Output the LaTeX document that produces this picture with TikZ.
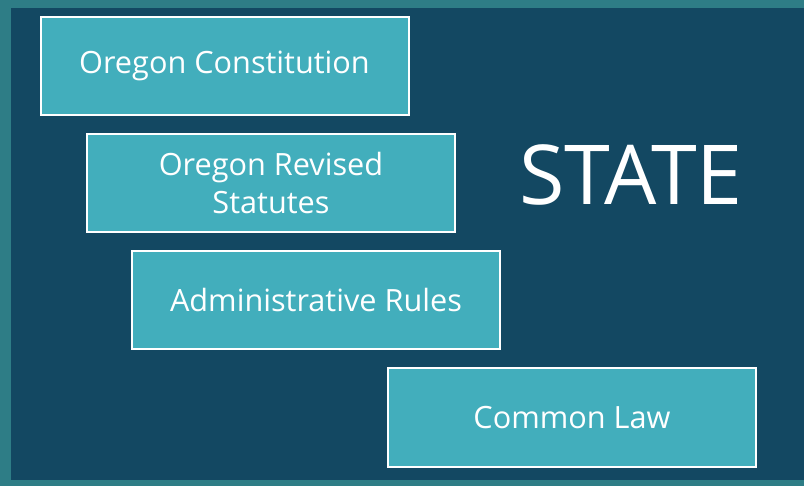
\documentclass[tikz,border=0pt]{standalone}
\usepackage{fontspec}
\setmainfont{Open Sans}
\definecolor{frameteal}{HTML}{2E7D86}
\definecolor{navy}{HTML}{134862}
\definecolor{boxteal}{HTML}{42AEBC}

\begin{document}
\begin{tikzpicture}[x=0.75pt,y=-0.75pt,
	box/.style={draw=white,line width=1.5pt,fill=boxteal,minimum width=276pt,minimum height=74pt,inner sep=0pt,text=white,font=\fontsize{23}{28.5}\selectfont,align=center}]
	\fill [frameteal] (0,0) rectangle (804,486);
	\fill [navy] (11,8) rectangle (804,480);
	\useasboundingbox (0,0) rectangle (804,486);
	
	\node[box] (const) at (224.5,66) {Oregon Constitution};
	\node[box] (ors) at (271,183) {Oregon Revised\\Statutes};
	\node[box] (rules) at (316,300) {Administrative Rules};
	\node[box] (common) at (572,417.5) {Common Law};
	
	\node[text=white,font=\fontsize{62}{62}\selectfont,inner sep=0pt] (state) at (631,175) {STATE};
\end{tikzpicture}
\end{document}
